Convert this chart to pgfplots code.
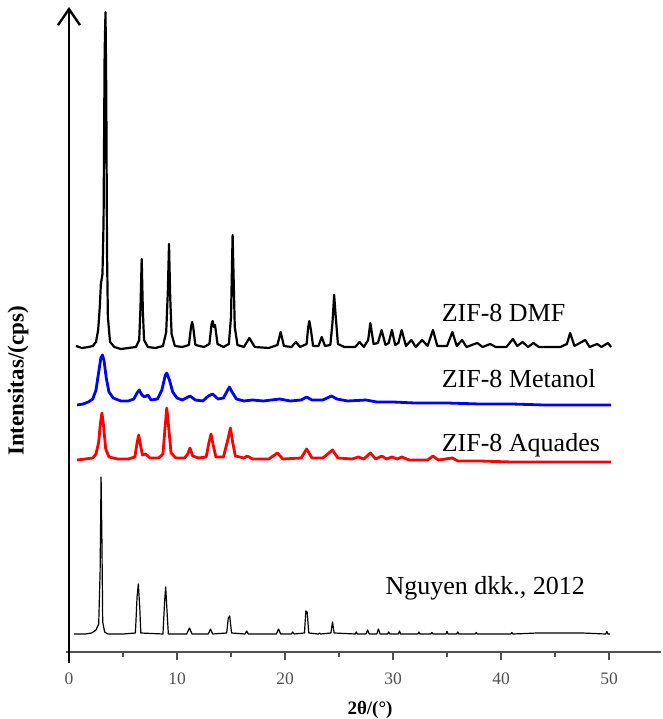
\documentclass[border=0pt]{standalone}
\usepackage{fontspec}
\setmainfont{Liberation Serif}
\usepackage{pgfplots}
\pgfplotsset{compat=1.18}
\usetikzlibrary{arrows.meta}
\definecolor{tickgray}{RGB}{80,80,80}
\begin{document}
\begin{tikzpicture}
\path[use as bounding box] (0,0) rectangle (662pt,719pt);
\begin{axis}[
  at={(69pt,67pt)}, anchor=origin,
  x=10.8pt, y=1pt,
  xmin=-0.3, xmax=54.8, ymin=-11, ymax=645,
  axis x line=middle, axis y line=middle,
  hide obscured x ticks=false,
  x axis line style={-, draw=tickgray, line width=1.3pt},
  y axis line style={-{Straight Barb[length=16pt,width=22pt]}, draw=black, line width=2.4pt},
  xtick={0,10,20,30,40,50}, minor xtick={5,15,...,45},
  xticklabels={0,10,20,30,40,50},
  ytick=\empty,
  tick align=outside,
  major tick length=8pt, minor tick length=5pt,
  every tick/.style={draw=tickgray, line width=1.3pt},
  every x tick label/.append style={font=\fontsize{17.5}{21}\selectfont, text=tickgray, yshift=-9pt},
  clip=false,
  line join=round,
]
\addplot[black, line width=2.2pt] coordinates {
(0.65,306)(1.2,304)(1.8,305)(2.2,306)(2.5,310)(2.7,322)(2.85,345)(2.95,368)(3.1,378)(3.2,430)(3.3,600)(3.38,640)(3.45,560)(3.52,400)(3.6,335)(3.8,310)(4.2,305)(4.8,303)(5.5,304)(6.2,305)(6.5,312)(6.62,345)(6.73,393)(6.84,340)(6.95,312)(7.3,305)(8,304)(8.7,306)(9.0,320)(9.15,360)(9.26,408)(9.37,355)(9.5,318)(9.8,306)(10.5,305)(11.1,307)(11.3,325)(11.4,330)(11.5,325)(11.7,307)(12.5,305)(13.0,308)(13.2,328)(13.3,331)(13.42,325)(13.52,327)(13.75,308)(14.3,305)(14.8,308)(15.0,335)(15.08,380)(15.15,417)(15.25,370)(15.35,325)(15.6,307)(16.2,305)(16.7,314)(17.2,305)(18.5,304)(19.3,307)(19.6,320)(19.9,306)(20.6,305)(21,310)(21.4,305)(22.0,308)(22.15,325)(22.25,331)(22.4,322)(22.6,306)(23.1,306)(23.4,315)(23.7,306)(24.2,307)(24.4,330)(24.55,357)(24.7,335)(24.9,308)(25.5,305)(26.5,305)(26.9,310)(27.3,305)(27.7,312)(27.9,329)(28.2,308)(28.6,309)(28.95,322)(29.3,307)(29.6,309)(29.9,322)(30.2,307)(30.5,309)(30.8,322)(31.2,306)(31.7,312)(32.1,305)(32.7,312)(33.2,306)(33.7,322)(34.1,306)(35.0,306)(35.5,320)(35.9,306)(36.4,312)(36.8,305)(37.8,309)(38.3,305)(39,308)(39.5,305)(40.5,305)(41.1,313)(41.5,306)(42,310)(42.5,305)(43,309)(43.5,305)(45.5,305)(46.1,308)(46.4,319)(46.8,306)(47.8,312)(48.2,305)(48.9,308)(49.3,305)(49.9,309)(50.2,305)
};
\addplot[blue, line width=2.8pt] coordinates {
(0.75,247)(1.3,248)(1.8,250)(2.2,253)(2.5,262)(2.75,280)(2.95,294)(3.1,297)(3.25,291)(3.45,274)(3.7,260)(4.1,254)(4.8,251)(5.5,251)(6.0,253)(6.3,259)(6.5,262)(6.75,257)(7.0,255)(7.3,257)(7.6,252)(8.2,253)(8.6,262)(8.9,276)(9.05,279)(9.3,272)(9.6,260)(10.0,254)(10.5,252)(11.2,256)(11.7,252)(12.4,251)(12.9,256)(13.3,258)(13.8,253)(14.3,254)(14.6,260)(14.85,265)(15.1,260)(15.5,253)(16.2,251)(17,252)(18,251)(19.5,253)(20.5,251)(21.5,252)(22,255)(22.5,252)(23.5,252)(24.3,256)(24.8,253)(25.8,251)(27.5,252)(28.5,250)(30,250)(32,249)(35,249)(38,248)(41,248)(44,247)(47,247)(50.2,247)
};
\addplot[red, line width=2.8pt] coordinates {
(0.75,192)(1.5,193)(2.2,194)(2.5,198)(2.75,210)(2.9,228)(3.05,239)(3.2,226)(3.4,203)(3.7,195)(4.5,193)(5.5,193)(6.1,195)(6.3,209)(6.45,217)(6.6,208)(6.8,197)(7.1,198)(7.5,194)(8.3,194)(8.7,198)(8.9,225)(9.05,244)(9.2,228)(9.45,199)(9.9,194)(10.7,194)(11.0,198)(11.2,204)(11.45,196)(12.0,194)(12.7,195)(12.95,209)(13.15,218)(13.35,207)(13.6,195)(14.3,195)(14.7,212)(14.95,224)(15.15,210)(15.4,196)(16.2,194)(16.5,196)(17,193)(18.5,193)(19.3,199)(19.8,193)(21.5,194)(22,203)(22.5,194)(23.5,194)(24.4,202)(24.9,194)(26.2,193)(26.8,195)(27.3,193)(27.9,199)(28.4,193)(28.95,196)(29.4,193)(29.9,195)(30.4,193)(30.8,195)(31.5,192)(33.2,192)(33.7,196)(34.2,192)(35.5,194)(36,191)(38,191)(41,190)(44,190)(47,190)(50.2,190)
};
\addplot[black, line width=1.2pt] coordinates {
(0.45,18)(1.5,18)(2.1,19)(2.5,22)(2.75,28)(2.88,80)(2.97,175)(3.05,110)(3.12,30)(3.3,20)(3.6,18)(5,18)(6.15,19)(6.3,55)(6.42,68)(6.55,45)(6.65,19)(8.7,18)(8.85,50)(8.95,65)(9.08,40)(9.2,18)(10.9,18)(11.15,24)(11.4,18)(12.9,18)(13.1,23)(13.3,18)(14.6,19)(14.75,34)(14.88,36)(15.05,19)(16.3,18)(16.45,21)(16.6,18)(19.2,18)(19.4,23)(19.6,18)(20.6,18)(20.7,20)(20.85,18)(21.8,19)(21.93,41)(22.05,40)(22.2,19)(23.1,18)(23.2,19)(23.3,18)(24.25,19)(24.4,30)(24.55,19)(26.5,18)(26.6,20)(26.7,18)(27.5,18)(27.65,22)(27.8,18)(28.5,18)(28.65,23)(28.8,18)(29.5,18)(29.6,20)(29.7,18)(30.5,18)(30.6,21)(30.7,18)(32.3,18)(32.4,20)(32.5,18)(33.5,18)(33.6,19.5)(33.7,18)(34.9,18)(35,20.5)(35.1,18)(35.9,18)(36,20)(36.1,18)(37.6,18)(37.7,19.5)(37.8,18)(40.9,18)(41,19.5)(41.1,18)(43.4,19)(44.5,19)(45.6,19)(47.5,19)(49.7,18)(49.8,20.5)(49.9,18)(50.1,18)
};
\node[anchor=base west, font=\fontsize{26}{30}\selectfont, inner sep=0pt] at (axis cs:34.5,330) {ZIF-8 DMF};
\node[anchor=base west, font=\fontsize{26}{30}\selectfont, inner sep=0pt] at (axis cs:34.5,264) {ZIF-8 Metanol};
\node[anchor=base west, font=\fontsize{26}{30}\selectfont, inner sep=0pt] at (axis cs:34.5,200) {ZIF-8 Aquades};
\node[anchor=base west, font=\fontsize{26}{30}\selectfont, inner sep=0pt] at (axis cs:29.3,57) {Nguyen dkk., 2012};
\end{axis}
\node[rotate=90, font=\bfseries\fontsize{23}{27}\selectfont, inner sep=0pt] at (18pt,338pt) {Intensitas/(cps)};
\node[font=\bfseries\fontsize{19}{23}\selectfont, inner sep=0pt] at (370pt,9pt) {2θ/(°)};
\end{tikzpicture}
\end{document}
